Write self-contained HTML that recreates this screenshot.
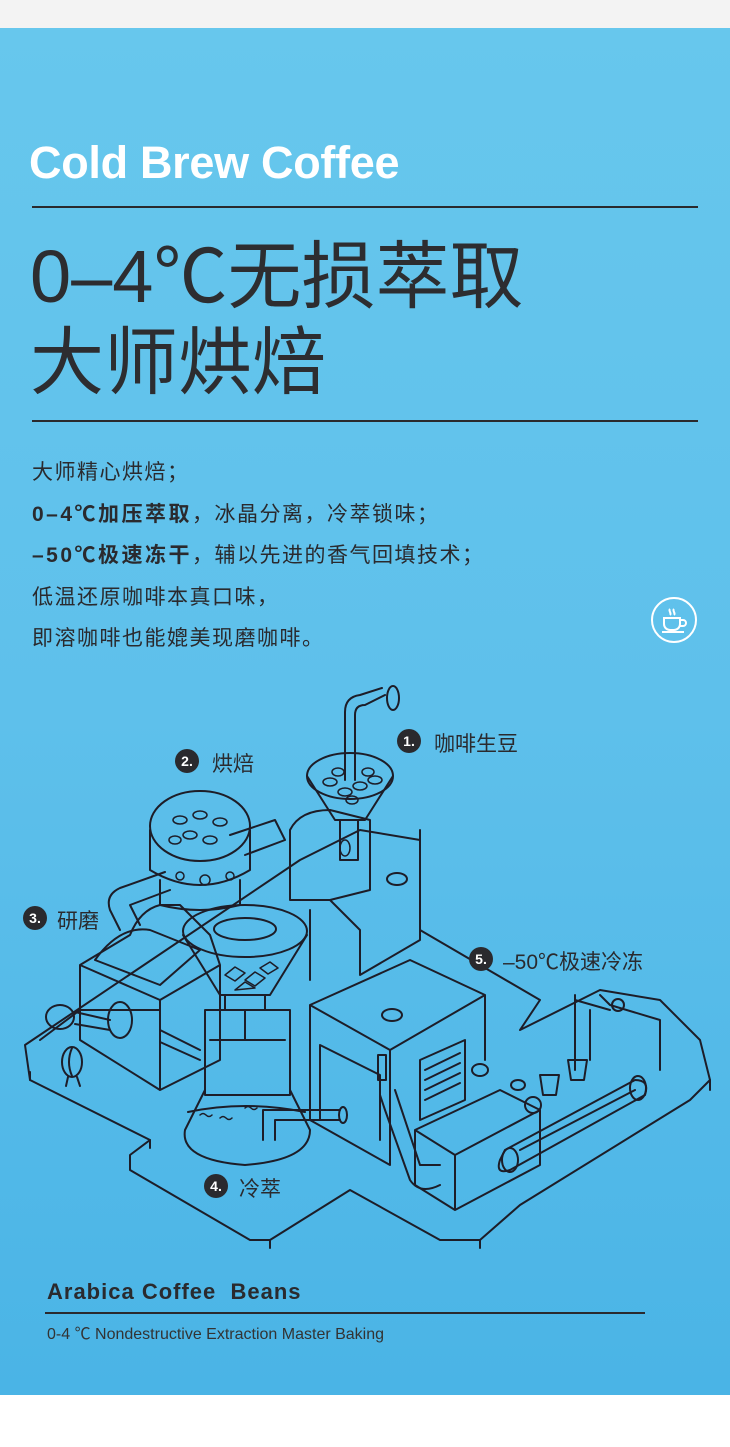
<!DOCTYPE html>
<html><head><meta charset="utf-8"><style>
html,body{margin:0;padding:0;background:#fff;}
body{width:730px;height:1447px;position:relative;overflow:hidden;font-family:"Liberation Sans","Noto Sans CJK SC",sans-serif;}
.top{position:absolute;left:0;top:0;width:730px;height:28px;background:#f3f3f3;}
.panel{position:absolute;left:0;top:28px;width:730px;height:1367px;background:linear-gradient(180deg,#67c7ed 0%,#5ec0eb 50%,#4ab4e6 100%);}
.t{position:absolute;white-space:nowrap;}
.hr{position:absolute;background:#2a2a2e;}
</style></head><body>
<div class="top"></div>
<div class="panel"></div>
<div class="t" style="left:29px;top:137px;font-size:45px;font-weight:bold;color:#fff;letter-spacing:-0.3px;">Cold Brew Coffee</div>
<div class="hr" style="left:32px;top:206px;width:666px;height:2px;"></div>
<div class="t" style="left:30px;top:234px;font-size:74px;color:#2d2d30;line-height:86px;">0–4℃无损萃取<br>大师烘焙</div>
<div class="hr" style="left:32px;top:420px;width:666px;height:2px;"></div>
<div class="t" style="left:32px;top:452px;font-size:21px;letter-spacing:1.5px;color:#2a2a2e;line-height:41.5px;">大师精心烘焙；<br><b style="letter-spacing:2.5px">0–4℃加压萃取</b>，冰晶分离，冷萃锁味；<br><b style="letter-spacing:2.5px">–50℃极速冻干</b>，辅以先进的香气回填技术；<br>低温还原咖啡本真口味，<br>即溶咖啡也能媲美现磨咖啡。</div>
<svg style="position:absolute;left:650px;top:596px" width="48" height="48" viewBox="0 0 48 48"><circle cx="24" cy="24" r="22" fill="none" stroke="#fff" stroke-width="2"/><path d="M14 22h16v6a6 6 0 0 1-6 6h-4a6 6 0 0 1-6-6z M30 24h3a3 3 0 0 1 0 6h-4 M12 36h22 M20 13c-2 2 2 4 0 6 M24 13c-2 2 2 4 0 6" fill="none" stroke="#fff" stroke-width="2"/></svg>

<svg style="position:absolute;left:0;top:680px" width="730" height="580" viewBox="0 680 730 580" fill="none" stroke="#1d1d28" stroke-width="2" stroke-linejoin="round" stroke-linecap="round">
<path d="M40 1040 L80 1010 L160 1010 M300 860 L360 830 L420 840 L420 930 L540 1000 L520 1030 L600 990 L660 1000 L700 1040 L710 1080 L690 1100 L520 1205 L480 1240 L440 1240 L350 1190 L270 1240 L250 1240 L130 1170 L130 1155 L150 1140 L30 1080 L25 1045 Z"/>
<path d="M30 1080 L30 1072 M150 1140 L150 1148 M270 1240 L270 1248 M480 1240 L480 1248 M710 1080 L710 1090"/>
<path d="M290 900 L290 830 Q300 810 330 810 L370 820 L370 890 L330 900 Z M330 900 L360 930 L360 975 L420 940 L420 830 M310 910 L310 980"/>
<ellipse cx="397" cy="879" rx="10" ry="6"/>
<ellipse cx="350" cy="776" rx="43" ry="23"/>
<path d="M307 776 L335 820 L365 820 L393 776 M340 820 L340 860 L358 860 L358 820"/>
<path d="M355 780 L355 715 Q355 705 365 705 L385 695 M345 780 L345 712 Q345 697 360 695 L382 688"/>
<ellipse cx="393" cy="698" rx="6" ry="12"/>
<g stroke-width="1.5"><ellipse cx="330" cy="782" rx="7" ry="4"/><ellipse cx="345" cy="792" rx="7" ry="4"/><ellipse cx="360" cy="786" rx="7" ry="4"/><ellipse cx="375" cy="780" rx="7" ry="4"/><ellipse cx="338" cy="772" rx="6" ry="4"/><ellipse cx="368" cy="772" rx="6" ry="4"/><ellipse cx="352" cy="800" rx="6" ry="4"/><ellipse cx="345" cy="848" rx="5" ry="8"/></g>
<ellipse cx="200" cy="826" rx="50" ry="35"/>
<path d="M150 830 L150 870 Q200 900 250 870 L250 830 M160 880 L160 905 M240 880 L240 905 M160 905 Q200 915 240 905"/>
<path d="M230 835 L275 820 L285 840 L245 855" />
<g stroke-width="1.5"><ellipse cx="180" cy="820" rx="7" ry="4"/><ellipse cx="200" cy="815" rx="7" ry="4"/><ellipse cx="220" cy="822" rx="7" ry="4"/><ellipse cx="190" cy="835" rx="7" ry="4"/><ellipse cx="210" cy="840" rx="7" ry="4"/><ellipse cx="175" cy="840" rx="6" ry="4"/><circle cx="205" cy="880" r="5"/><circle cx="230" cy="876" r="4"/><circle cx="180" cy="876" r="4"/></g>
<path d="M165 872 L120 888 Q105 895 110 910 L120 930 M170 890 L130 905 L140 925"/>
<path d="M80 965 L130 935 Q140 910 160 905 L180 905 L210 935 L220 965 L160 1000 Z M80 965 L80 1040 L160 1090 L160 1000 M160 1090 L220 1060 L220 965"/>
<path d="M95 960 Q120 925 150 930 L200 950 L160 985 Z"/>
<ellipse cx="120" cy="1020" rx="12" ry="18"/>
<path d="M110 1020 L75 1012 M110 1030 L75 1024"/>
<ellipse cx="60" cy="1017" rx="14" ry="12"/>
<ellipse cx="72" cy="1062" rx="10" ry="15"/><path d="M72 1048 Q66 1062 72 1076 M68 1077 L66 1086 M77 1077 L80 1086"/>
<ellipse cx="245" cy="931" rx="62" ry="26"/>
<ellipse cx="245" cy="929" rx="31" ry="11"/>
<path d="M183 935 L220 995 L270 995 L307 935"/>
<g stroke-width="1.5"><path d="M225 975 l10 -8 l10 6 l-10 8 z M245 980 l10 -8 l10 6 l-10 8 z M235 990 l10 -8 l10 6 z M260 968 l10 -6 l8 6 l-10 6 z"/></g>
<path d="M225 995 L225 1010 L265 1010 L265 995 M205 1010 L205 1095 L290 1095 L290 1010 Z M210 1040 L285 1040 M245 1010 L245 1040"/>
<path d="M205 1090 L185 1130 Q180 1160 245 1165 Q310 1160 310 1130 L290 1090 M188 1112 Q245 1100 305 1112"/>
<g stroke-width="1.5"><path d="M200 1115 q3 -3 6 0 q3 3 6 0 M220 1118 q3 -3 6 0 q3 3 6 0 M245 1108 q3 -3 6 0 q3 3 6 0"/></g>
<path d="M263 1140 L263 1110 L340 1110 M275 1140 L275 1120 L340 1120"/><ellipse cx="343" cy="1115" rx="4" ry="8"/>
<path d="M160 1030 L200 1050 M160 1042 L200 1060"/>
<path d="M310 1005 L410 960 L485 995 L390 1050 Z M310 1005 L310 1120 L390 1165 L390 1050 M485 995 L485 1060"/>
<ellipse cx="392" cy="1015" rx="10" ry="6"/>
<path d="M320 1045 L320 1120 M320 1045 L380 1075 L380 1140"/>
<rect x="378" y="1055" width="8" height="25"/>
<path d="M420 1060 L465 1040 L465 1100 L420 1120 Z M425 1070 L460 1053 M425 1080 L460 1063 M425 1090 L460 1073 M425 1100 L460 1083"/>
<path d="M380 1095 L385 1110 L410 1180 Q420 1195 440 1185 M395 1090 L400 1105 L420 1165 L440 1165"/>
<path d="M415 1130 L500 1090 L540 1110 L455 1155 Z M415 1130 L415 1185 L455 1210 L455 1155 M455 1210 L540 1165 L540 1110"/>
<ellipse cx="480" cy="1070" rx="8" ry="6"/><ellipse cx="518" cy="1085" rx="7" ry="5"/><ellipse cx="533" cy="1105" rx="8" ry="8"/>
<path d="M505 1150 L635 1080 Q650 1080 645 1095 L510 1170 Q495 1175 500 1160 Z M520 1150 L635 1090"/>
<ellipse cx="510" cy="1160" rx="8" ry="12"/><ellipse cx="638" cy="1088" rx="8" ry="12"/>
<path d="M575 995 L575 1070 M600 995 L610 1005 L660 1020 L660 1070 M575 1000 L610 1010 M590 1010 L590 1060"/>
<ellipse cx="618" cy="1005" rx="6" ry="6"/>
<path d="M540 1075 L543 1095 L556 1095 L559 1075 Z M568 1060 L571 1080 L584 1080 L587 1060 Z"/>
</svg>

<svg style="position:absolute;left:0;top:0" width="730" height="1447" font-family="Liberation Sans" font-weight="bold" font-size="14">
<g fill="#2a2a2e"><circle cx="409" cy="741" r="12"/><circle cx="187" cy="761" r="12"/><circle cx="35" cy="918" r="12"/><circle cx="216" cy="1186" r="12"/><circle cx="481" cy="959" r="12"/></g>
<g fill="#fff" text-anchor="middle"><text x="409" y="746">1.</text><text x="187" y="766">2.</text><text x="35" y="923">3.</text><text x="216" y="1191">4.</text><text x="481" y="964">5.</text></g>
</svg>
<div class="t" style="left:434px;top:728px;font-size:21px;color:#2a2a2e;">咖啡生豆</div>
<div class="t" style="left:212px;top:748px;font-size:21px;color:#2a2a2e;">烘焙</div>
<div class="t" style="left:57px;top:905px;font-size:21px;color:#2a2a2e;">研磨</div>
<div class="t" style="left:239px;top:1173px;font-size:21px;color:#2a2a2e;">冷萃</div>
<div class="t" style="left:503px;top:946px;font-size:21px;color:#2a2a2e;">–50℃极速冷冻</div>

<div class="t" style="left:47px;top:1279px;font-size:22px;font-weight:bold;letter-spacing:1px;color:#2a2a2e;">Arabica Coffee&nbsp; Beans</div>
<div class="hr" style="left:45px;top:1312px;width:600px;height:1.5px;"></div>
<div class="t" style="left:47px;top:1320px;font-size:16px;color:#333;">0-4 ℃ Nondestructive Extraction Master Baking</div>
</body></html>
